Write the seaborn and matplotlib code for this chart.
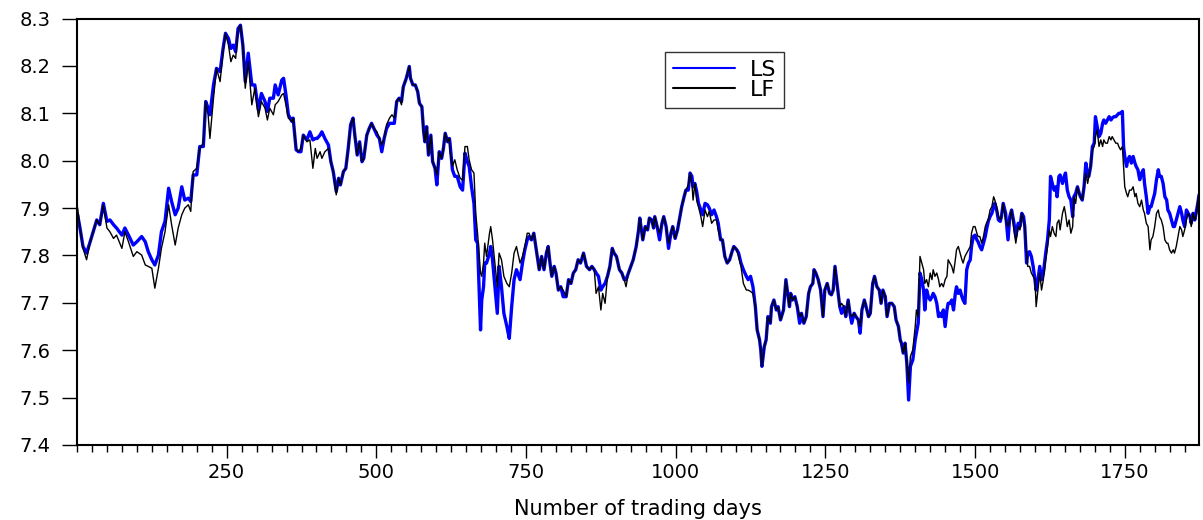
import numpy as np
import matplotlib
matplotlib.use("Agg")
import matplotlib.pyplot as plt
import seaborn as sns
from matplotlib.ticker import MultipleLocator, FixedLocator, FormatStrFormatter

# ---------------- data ----------------
days_a = [1,5,10,16,22,27,33,38,44,50,55,61,66,75,80,86,94,100,108,114,
          119,125,130,136,141,147,153,158,164,169,175,180,186,190,194,200,205,211,215,219,
          222,228,233,239,244,248,253,257,261,265,269,273,277,281,286,292,297,303,308,314,
          318,322]
ls_a = [7.886,7.858,7.819,7.805,7.829,7.850,7.875,7.865,7.910,7.872,
        7.875,7.865,7.858,7.843,7.858,7.843,7.822,7.829,7.840,7.829,
        7.808,7.791,7.780,7.801,7.850,7.872,7.942,7.914,7.886,7.900,
        7.945,7.917,7.921,7.914,7.970,7.970,8.030,8.030,8.125,8.111,
        8.097,8.160,8.195,8.188,8.237,8.269,8.258,8.237,8.244,8.230,
        8.279,8.286,8.244,8.167,8.227,8.160,8.160,8.107,8.142,8.125,
        8.104,8.132]
lf_a = [7.901,7.858,7.815,7.791,7.829,7.850,7.875,7.865,7.907,7.858,
        7.850,7.836,7.843,7.815,7.850,7.829,7.798,7.808,7.801,7.780,
        7.777,7.773,7.731,7.773,7.815,7.850,7.907,7.865,7.822,7.858,
        7.886,7.900,7.907,7.893,7.977,7.984,8.026,8.037,8.125,8.097,
        8.047,8.132,8.195,8.167,8.230,8.269,8.244,8.209,8.223,8.216,
        8.276,8.286,8.244,8.153,8.209,8.118,8.153,8.093,8.125,8.111,
        8.086,8.111]

days_b = [328,331,336,342,345,349,353,359,361,366,
          370,374,378,384,389,394,398,401,406,409,
          414,420,424,428,433,437,440,445,449,453,
          457,461,464,468,472,476,479,484,488,492,
          496,501,505,509,513,517,522,526,530,534,
          538,542,545,550,555,557,561,565,569,572,
          576,579,581,584,587,591,594,598,601,605,
          609,612,615,619,622]
ls_b = [8.132,8.160,8.139,8.170,8.174,8.139,8.097,8.083,8.090,8.023,
        8.019,8.019,8.054,8.044,8.061,8.044,8.047,8.047,8.054,8.061,
        8.047,8.033,7.998,7.977,7.935,7.963,7.949,7.977,7.984,8.026,
        8.076,8.090,8.054,8.012,8.040,7.998,8.005,8.054,8.068,8.079,
        8.068,8.054,8.047,8.019,8.047,8.068,8.079,8.079,8.079,8.125,
        8.132,8.125,8.156,8.174,8.199,8.174,8.160,8.160,8.146,8.121,
        8.114,8.061,8.040,8.072,8.012,8.054,7.998,7.984,7.949,8.019,
        8.005,8.026,8.058,8.040,8.047]
lf_b = [8.097,8.118,8.125,8.139,8.142,8.118,8.090,8.083,8.090,8.026,
        8.019,8.026,8.054,8.040,8.044,7.984,8.026,8.005,8.019,8.005,
        8.019,8.026,7.998,7.977,7.928,7.963,7.949,7.977,7.984,8.026,
        8.076,8.090,8.054,8.012,8.040,7.998,8.005,8.054,8.068,8.079,
        8.068,8.061,8.047,8.033,8.047,8.076,8.090,8.097,8.090,8.125,
        8.132,8.118,8.156,8.174,8.199,8.174,8.160,8.160,8.146,8.121,
        8.114,8.061,8.040,8.072,8.012,8.054,7.998,7.984,7.970,8.019,
        8.005,8.026,8.058,8.040,8.047]

days_c = [623,627,631,635,640,644,648,652,655,659,
          663,666,669,672,674,676,679,681,684,689,
          691,694,698,702,705,709,713,718,722,726,
          730,734,740,744,748,752,755,759,763,768,
          772,776,780,784,787,790,793,797,800,804,
          808,812,817,821,825,829,833,837,841,846,
          851,856,860,864,867,871,875,878,882,886,
          890,894,897,901,906,910,914,917,921,925,
          929,934,938,940]
ls_c = [8.037,7.981,7.967,7.967,7.945,7.938,8.016,7.998,7.988,7.945,
        7.910,7.833,7.826,7.720,7.643,7.706,7.734,7.784,7.784,7.805,
        7.819,7.791,7.734,7.678,7.777,7.734,7.678,7.650,7.625,7.692,
        7.749,7.770,7.749,7.784,7.812,7.833,7.840,7.833,7.847,7.805,
        7.770,7.798,7.770,7.805,7.819,7.784,7.756,7.777,7.763,7.727,
        7.734,7.713,7.713,7.749,7.741,7.763,7.770,7.791,7.784,7.805,
        7.777,7.770,7.777,7.770,7.763,7.756,7.727,7.734,7.741,7.756,
        7.777,7.815,7.805,7.798,7.770,7.763,7.749,7.749,7.763,7.777,
        7.791,7.819,7.854,7.879]
lf_c = [8.023,7.988,8.002,7.981,7.963,7.959,8.030,8.030,8.002,7.981,
        7.974,7.889,7.847,7.798,7.763,7.756,7.784,7.826,7.798,7.847,
        7.861,7.833,7.784,7.734,7.805,7.791,7.756,7.741,7.734,7.763,
        7.805,7.819,7.784,7.798,7.819,7.847,7.847,7.833,7.847,7.805,
        7.770,7.798,7.770,7.805,7.819,7.784,7.756,7.777,7.763,7.727,
        7.734,7.727,7.713,7.749,7.741,7.763,7.770,7.791,7.784,7.805,
        7.777,7.770,7.777,7.770,7.720,7.734,7.685,7.720,7.699,7.756,
        7.777,7.815,7.805,7.798,7.770,7.763,7.749,7.734,7.763,7.777,
        7.791,7.819,7.854,7.879]

days_d = [945,949,953,956,960,963,965,969,973,977,
          980,984,988,992,995,999,1003,1006,1010,1014,
          1017,1021,1024,1027,1029,1032,1035,1038,1042,1045,
          1049,1053,1056,1060,1064,1068,1071,1075,1078,1082,
          1086,1090,1094,1097,1102,1105,1109,1113,1118,1121,
          1125,1129,1133,1136,1140,1142,1144,1148,1151,1154,
          1158,1160,1164,1168,1171,1175,1180,1184,1187,1190,
          1192,1195,1199,1203,1207,1210,1214,1218,1222,1225,
          1229,1231,1234,1238,1242,1246,1249,1253,1257]
ls_d = [7.833,7.861,7.854,7.879,7.875,7.858,7.882,7.861,7.833,7.868,
        7.882,7.861,7.815,7.847,7.861,7.836,7.854,7.875,7.903,7.924,
        7.938,7.938,7.974,7.967,7.945,7.952,7.935,7.910,7.896,7.886,
        7.910,7.907,7.900,7.886,7.896,7.882,7.868,7.833,7.833,7.798,
        7.784,7.791,7.808,7.819,7.812,7.805,7.784,7.770,7.756,7.749,
        7.756,7.734,7.692,7.643,7.622,7.601,7.566,7.608,7.622,7.671,
        7.657,7.692,7.706,7.685,7.692,7.664,7.685,7.749,7.720,7.692,
        7.720,7.706,7.713,7.692,7.657,7.678,7.657,7.671,7.720,7.734,
        7.741,7.770,7.763,7.749,7.727,7.671,7.727,7.741,7.720]
lf_d = [7.833,7.861,7.854,7.879,7.875,7.858,7.882,7.861,7.847,7.868,
        7.882,7.861,7.826,7.847,7.861,7.836,7.854,7.875,7.903,7.924,
        7.938,7.949,7.974,7.952,7.917,7.952,7.917,7.903,7.882,7.861,
        7.896,7.882,7.893,7.868,7.875,7.875,7.854,7.833,7.833,7.798,
        7.784,7.791,7.808,7.819,7.812,7.798,7.777,7.741,7.727,7.727,
        7.724,7.720,7.692,7.643,7.622,7.601,7.566,7.608,7.622,7.671,
        7.657,7.692,7.706,7.685,7.692,7.664,7.685,7.749,7.720,7.692,
        7.720,7.706,7.713,7.692,7.671,7.678,7.657,7.671,7.720,7.734,
        7.741,7.770,7.763,7.749,7.727,7.671,7.727,7.741,7.720]

days_e = [1260,1263,1266,1270,1274,1277,1281,1284,1288,1291,
          1294,1298,1301,1305,1308,1311,1315,1318,1322,1325,
          1329,1332,1336,1340,1343,1346,1350,1353,1357,1361,
          1365,1368,1372,1375,1377,1380,1383,1386,1389,1392,
          1396,1400,1402,1405,1408,1411,1414,1416,1419,1422,
          1425,1428,1430,1433,1436,1439,1441,1444,1447,1450,
          1453,1455,1458,1461,1464,1467,1469,1472,1475,1478,
          1480,1483,1486,1489,1492,1494,1497,1500,1503,1505,
          1508,1511,1514,1517,1519,1522,1525,1528,1531,1533,
          1536,1539,1542,1544]
ls_e = [7.717,7.727,7.777,7.734,7.692,7.678,7.692,7.671,7.706,7.678,
        7.657,7.678,7.671,7.664,7.636,7.685,7.706,7.692,7.671,7.678,
        7.741,7.756,7.734,7.727,7.699,7.727,7.713,7.671,7.699,7.699,
        7.692,7.664,7.650,7.622,7.615,7.594,7.615,7.573,7.495,7.566,
        7.580,7.622,7.636,7.657,7.763,7.749,7.727,7.685,7.727,7.713,
        7.706,7.713,7.720,7.713,7.699,7.671,7.678,7.671,7.685,7.650,
        7.685,7.699,7.699,7.706,7.685,7.720,7.734,7.720,7.727,7.713,
        7.706,7.699,7.770,7.784,7.791,7.819,7.840,7.843,7.833,7.829,
        7.819,7.812,7.826,7.840,7.854,7.872,7.882,7.889,7.903,7.910,
        7.896,7.875,7.872,7.882]
lf_e = [7.717,7.727,7.777,7.734,7.692,7.699,7.692,7.671,7.706,7.678,
        7.671,7.678,7.671,7.664,7.650,7.685,7.706,7.692,7.671,7.678,
        7.741,7.756,7.734,7.727,7.699,7.727,7.713,7.671,7.699,7.699,
        7.692,7.664,7.650,7.622,7.615,7.594,7.615,7.573,7.531,7.587,
        7.601,7.650,7.685,7.671,7.798,7.784,7.770,7.741,7.749,7.734,
        7.763,7.749,7.770,7.756,7.763,7.749,7.734,7.741,7.734,7.749,
        7.756,7.791,7.784,7.777,7.763,7.791,7.812,7.819,7.805,7.791,
        7.784,7.798,7.805,7.812,7.819,7.847,7.861,7.861,7.847,7.840,
        7.840,7.826,7.840,7.861,7.868,7.875,7.896,7.903,7.924,7.917,
        7.903,7.882,7.875,7.882]

days_f = [1547,1551,1555,1558,1561,1565,1568,1572,1575,1578,
          1581,1583,1586,1588,1591,1594,1597,1600,1602,1605,
          1608,1611,1614,1618,1621,1624,1626,1629,1632,1635,
          1637,1640,1642,1646,1649,1651,1654,1657,1660,1663,
          1665,1668,1671,1674,1676,1679,1682,1685,1688,1690,
          1693,1696,1699,1701,1704,1707,1710,1713,1715,1718,
          1721,1724,1727,1729,1732,1735,1738,1740,1743,1746,
          1748,1750,1753,1755,1758,1761,1764,1767,1769,1772,
          1775,1778,1781,1783,1786,1789,1792,1794,1797,1800,
          1803,1806,1808,1811,1814,1817,1820,1822,1825,1828,
          1831,1833,1836,1839,1842,1845,1847,1850,1853,1856,
          1859,1861,1864,1867,1870,1872,1874]
ls_f = [7.910,7.889,7.833,7.882,7.896,7.868,7.840,7.868,7.861,7.889,
        7.882,7.861,7.784,7.805,7.808,7.798,7.777,7.749,7.727,7.749,
        7.777,7.749,7.763,7.805,7.833,7.875,7.967,7.952,7.938,7.945,
        7.924,7.967,7.970,7.952,7.967,7.974,7.938,7.924,7.917,7.882,
        7.924,7.931,7.945,7.931,7.924,7.917,7.945,7.995,7.967,7.967,
        7.988,8.030,8.037,8.093,8.072,8.051,8.058,8.079,8.086,8.079,
        8.086,8.093,8.086,8.090,8.093,8.093,8.097,8.100,8.100,8.104,
        8.030,8.009,7.988,8.002,8.009,7.995,8.009,7.995,7.988,7.981,
        7.960,7.974,7.981,7.952,7.924,7.889,7.903,7.903,7.917,7.931,
        7.960,7.981,7.967,7.967,7.952,7.924,7.917,7.896,7.889,7.875,
        7.861,7.861,7.875,7.889,7.903,7.889,7.875,7.861,7.896,7.889,
        7.882,7.868,7.889,7.875,7.896,7.910,7.928]
lf_f = [7.910,7.875,7.861,7.875,7.896,7.854,7.826,7.861,7.854,7.889,
        7.875,7.861,7.805,7.777,7.777,7.763,7.756,7.749,7.692,7.727,
        7.763,7.727,7.749,7.791,7.819,7.854,7.840,7.861,7.847,7.840,
        7.868,7.875,7.854,7.889,7.903,7.889,7.861,7.875,7.847,7.861,
        7.924,7.910,7.945,7.931,7.924,7.917,7.945,7.974,7.952,7.967,
        7.988,8.023,8.030,8.051,8.065,8.030,8.044,8.030,8.044,8.037,
        8.037,8.051,8.044,8.051,8.044,8.037,8.037,8.030,8.023,8.030,
        7.988,7.945,7.931,7.924,7.938,7.938,7.945,7.924,7.931,7.910,
        7.903,7.917,7.896,7.889,7.868,7.861,7.812,7.833,7.840,7.861,
        7.889,7.896,7.882,7.875,7.861,7.833,7.826,7.826,7.812,7.805,
        7.812,7.805,7.819,7.840,7.861,7.854,7.840,7.854,7.875,7.889,
        7.882,7.861,7.889,7.875,7.889,7.917,7.928]

x_ticks = [250, 500, 750, 1000, 1250, 1500, 1750]
y_ticks = [7.4, 7.5, 7.6, 7.7, 7.8, 7.9, 8.0, 8.1, 8.2, 8.3]
series_names = ["LS", "LF"]
x_label = "Number of trading days"

days = np.concatenate([days_a, days_b, days_c, days_d, days_e, days_f])
ls = np.concatenate([ls_a, ls_b, ls_c, ls_d, ls_e, ls_f])
lf = np.concatenate([lf_a, lf_b, lf_c, lf_d, lf_e, lf_f])
assert len(days) == len(ls) == len(lf)

# ---------------- figure ----------------
sns.set_theme(style="white")
plt.rcParams['font.family'] = ['DejaVu Sans']

W, H = 1203, 520
fig = plt.figure(figsize=(W / 100, H / 100), dpi=100)
ax = fig.add_axes([77 / W, 1 - 445 / H, (1199 - 77) / W, (445 - 18.6) / H])

sns.lineplot(x=days, y=ls, color=(0, 0, 1), lw=2.4, ax=ax, label=series_names[0],
             estimator=None, sort=False)
sns.lineplot(x=days, y=lf, color="black", lw=1.0, ax=ax, label=series_names[1],
             estimator=None, sort=False)

ax.set_xlim(0, 1874)
ax.set_ylim(7.4, 8.3)
ax.xaxis.set_major_locator(FixedLocator(x_ticks))
ax.xaxis.set_minor_locator(MultipleLocator(25))
ax.yaxis.set_major_locator(FixedLocator(y_ticks))
ax.yaxis.set_major_formatter(FormatStrFormatter("%.1f"))

ax.tick_params(axis="x", which="major", direction="out", length=9, width=1,
               bottom=True, labelsize=14, pad=4, colors="black")
ax.tick_params(axis="x", which="minor", direction="out", length=5, width=1,
               bottom=True, colors="black")
ax.tick_params(axis="y", which="major", direction="out", length=11, width=1,
               left=True, labelsize=14, pad=8, colors="black")

for sp in ax.spines.values():
    sp.set_color("black")
    sp.set_linewidth(1.5)

ax.set_xlabel(x_label, fontsize=15, labelpad=12, color="black")
ax.set_ylabel("")

leg = ax.legend(loc="upper left", bbox_to_anchor=((665 - 77) / 1122, (445 - 52) / 426.4),
                frameon=True, fancybox=False, edgecolor="black", fontsize=16,
                handlelength=2.8, handletextpad=0.65, borderpad=0.35,
                borderaxespad=0, labelspacing=0.02)
leg.get_frame().set_linewidth(1.0)
for h in leg.get_lines():
    h.set_linewidth(1.5)
for t in leg.get_texts():
    t.set_color("black")

fig.savefig("out.png", dpi=100)
